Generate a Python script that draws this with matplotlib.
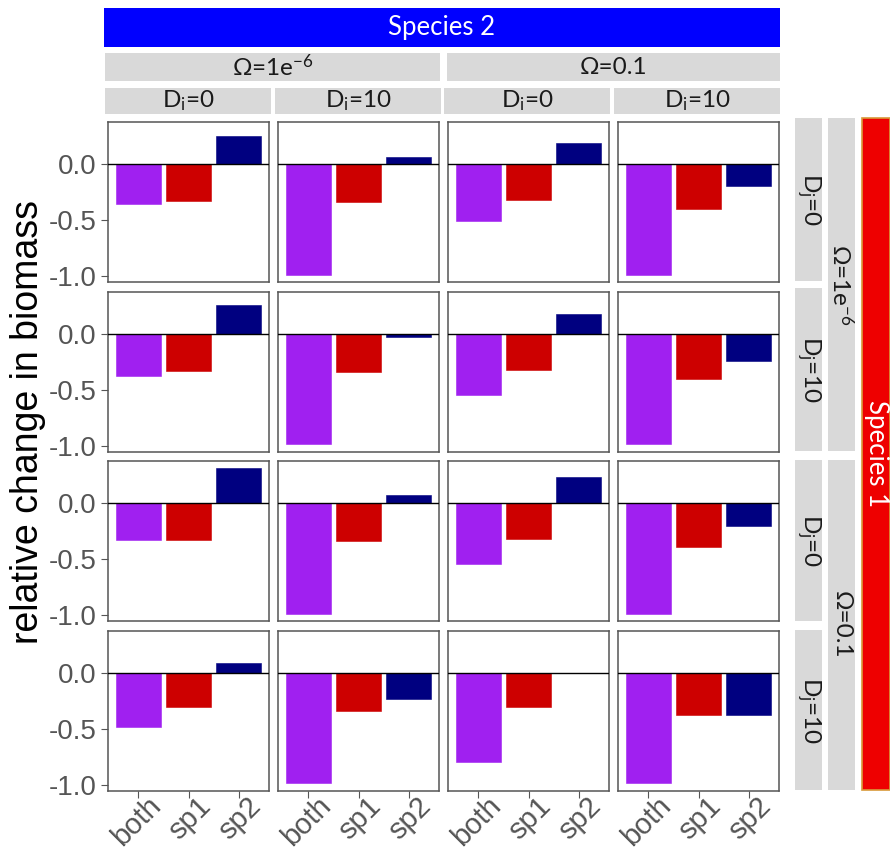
import numpy as np
import matplotlib
matplotlib.use("Agg")
import matplotlib.pyplot as plt
import matplotlib.transforms as mtransforms
from matplotlib.patches import Rectangle

# relative change in biomass per scenario
# rows: species 1 (Omega, D_j), columns: species 2 (Omega, D_i)
groups = ["both", "sp1", "sp2"]
both = [[-0.36, -0.99, -0.51, -0.99],
        [-0.375, -0.98, -0.545, -0.98],
        [-0.33, -0.99, -0.55, -0.99],
        [-0.48, -0.98, -0.80, -0.98]]
sp1 = [[-0.33, -0.34, -0.32, -0.40],
       [-0.33, -0.34, -0.32, -0.40],
       [-0.33, -0.34, -0.32, -0.39],
       [-0.30, -0.34, -0.30, -0.38]]
sp2 = [[0.25, 0.06, 0.185, -0.20],
       [0.26, -0.03, 0.18, -0.245],
       [0.31, 0.07, 0.235, -0.21],
       [0.086, -0.23, 0.0, -0.38]]

col_omega = ["Ω=1e$\\mathregular{^{-6}}$", "Ω=0.1"]
col_d = ["D$\\mathregular{_i}$=0", "D$\\mathregular{_i}$=10"]
row_omega = ["Ω=1e$\\mathregular{^{-6}}$", "Ω=0.1"]
row_d = ["D$\\mathregular{_j}$=0", "D$\\mathregular{_j}$=10"]

bar_colors = ["#A020F0", "#CD0000", "#000080"]
strip_grey = "#D9D9D9"
tick_grey = "#555555"

W, H = 890, 863
fig = plt.figure(figsize=(W / 100, H / 100), dpi=100)
fig.patch.set_facecolor("white")

strip_font = ["Lato", "DejaVu Sans"]
strip_size = 17.5


def fx(x):
    return x / W


def fy(y):
    return 1 - y / H


def box(x0, y0, x1, y1, color, edge=None, lw=0):
    fig.add_artist(Rectangle((fx(x0), fy(y1)), fx(x1) - fx(x0), fy(y0) - fy(y1),
                             transform=fig.transFigure, facecolor=color,
                             edgecolor=edge if edge else color, linewidth=lw))


# panel grid (pixel layout)
col_left = [108, 278, 448, 618]
row_top = [122, 292, 461, 631]
pw, ph = 161, 160

vals = np.array([both, sp1, sp2])
ymin = vals.min()
ymax = vals.max()
pad = 0.05 * (ymax - ymin)

# nudge the rotated group labels up and to the right
shift = mtransforms.ScaledTranslation(8 / 100, 11 / 100, fig.dpi_scale_trans)

x = np.arange(1, 4)
for r in range(4):
    for c in range(4):
        ax = fig.add_axes([fx(col_left[c]), fy(row_top[r] + ph), fx(pw), ph / H])
        heights = [both[r][c], sp1[r][c], sp2[r][c]]
        ax.bar(x, heights, width=0.9, color=bar_colors, edgecolor=bar_colors,
               linewidth=0.4, zorder=2)
        ax.axhline(0, color="black", linewidth=1.0, zorder=3)
        ax.set_xlim(0.4, 3.6)
        ax.set_ylim(ymin - pad, ymax + pad)
        ax.set_yticks([-1.0, -0.5, 0.0])
        ax.set_xticks(x)
        for s in ax.spines.values():
            s.set_color("#555555")
            s.set_linewidth(1.1)
        ax.tick_params(colors="#555555", length=5, width=0.8,
                       labelcolor=tick_grey, labelsize=20)
        if c == 0:
            ax.set_yticklabels(["-1.0", "-0.5", "0.0"], fontfamily="Liberation Sans")
        else:
            ax.tick_params(axis="y", length=0, labelleft=False)
        if r == 3:
            ax.set_xticklabels(groups, rotation=45, ha="right", fontsize=21,
                               rotation_mode="anchor", fontfamily="Liberation Sans")
            for lab in ax.get_xticklabels():
                lab.set_transform(lab.get_transform() + shift)
        else:
            ax.tick_params(axis="x", length=0, labelbottom=False)

# y axis title
fig.text(fx(28), fy(422), "relative change in biomass", rotation=90,
         ha="center", va="center", fontsize=27, color="black",
         fontfamily="Liberation Sans")

# top strips
box(104, 8, 780, 47, "#0000FF")
fig.text(fx(442), fy(28), "Species 2", ha="center", va="center",
         fontsize=18.5, color="white", fontfamily=strip_font)
for k, (x0, x1) in enumerate([(105, 440), (447, 780)]):
    box(x0, 53, x1, 81, strip_grey)
    fig.text(fx((x0 + x1) / 2), fy(67), col_omega[k], ha="center", va="center",
             fontsize=strip_size, color="#1A1A1A", fontfamily=strip_font)
for k, (x0, x1) in enumerate([(105, 271), (275, 441), (444, 610), (614, 780)]):
    box(x0, 88, x1, 114, strip_grey)
    fig.text(fx((x0 + x1) / 2), fy(101), col_d[k % 2], ha="center", va="center",
             fontsize=strip_size, color="#1A1A1A", fontfamily=strip_font)

# right strips
for k, (y0, y1) in enumerate([(118, 281), (288, 451), (460, 621), (630, 790)]):
    box(795, y0, 822, y1, strip_grey)
    fig.text(fx(808.5), fy((y0 + y1) / 2), row_d[k % 2], rotation=-90,
             ha="center", va="center", fontsize=strip_size, color="#1A1A1A",
             fontfamily=strip_font)
for k, (y0, y1) in enumerate([(118, 451), (460, 790)]):
    box(828, y0, 855, y1, strip_grey)
    fig.text(fx(841.5), fy((y0 + y1) / 2), row_omega[k], rotation=-90,
             ha="center", va="center", fontsize=strip_size, color="#1A1A1A",
             fontfamily=strip_font)
box(862, 118, 890, 790, "#EE0000", edge="#D89A3A", lw=1.2)
fig.text(fx(877), fy(454), "Species 1", rotation=-90, ha="center", va="center",
         fontsize=18.5, color="white", fontfamily=strip_font)

fig.savefig("out.png", dpi=100, facecolor="white")
